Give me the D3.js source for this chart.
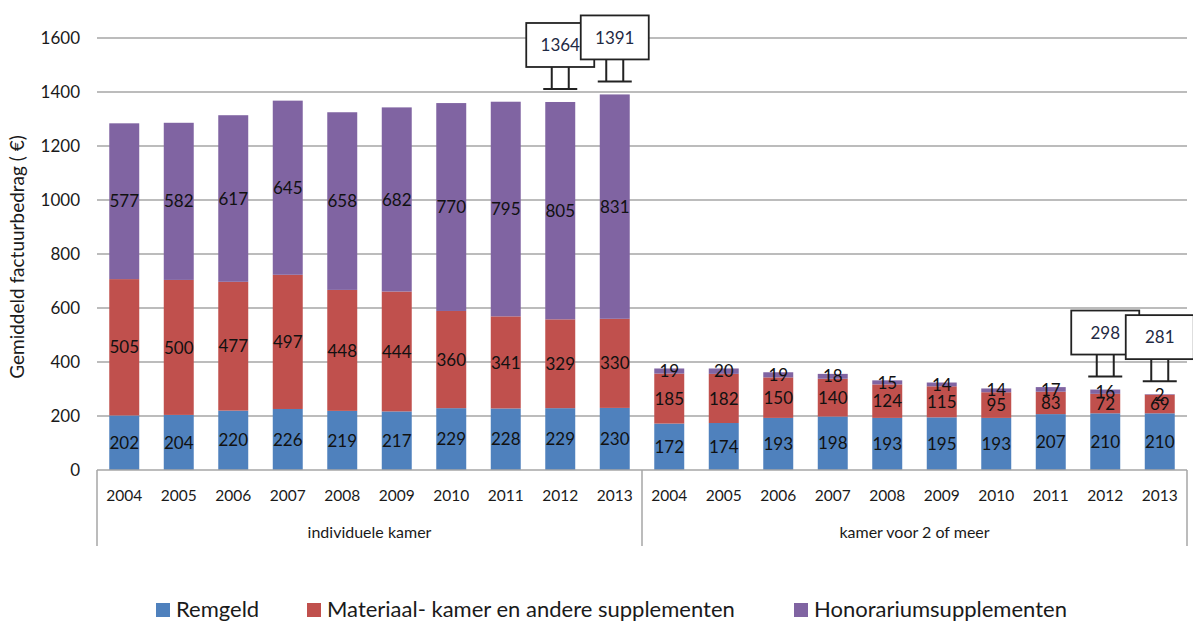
<!DOCTYPE html>
<html>
<head>
<meta charset="utf-8">
<script src="https://cdn.jsdelivr.net/npm/d3@7"></script>
<style>
  html, body { margin: 0; padding: 0; background: #fff; }
  svg { display: block; font-family: Lato, "Open Sans", sans-serif; }
</style>
</head>
<body>
<svg id="chart" width="1193" height="623"></svg>
<script>
// ---- data ----
const groups = ["individuele kamer", "kamer voor 2 of meer"];
const years = ["2004","2005","2006","2007","2008","2009","2010","2011","2012","2013"];
const seriesNames = ["Remgeld", "Materiaal- kamer en andere supplementen", "Honorariumsupplementen"];
const remgeld = [202,204,220,226,219,217,229,228,229,230, 172,174,193,198,193,195,193,207,210,210];
const materiaal = [505,500,477,497,448,444,360,341,329,330, 185,182,150,140,124,115,95,83,72,69];
const honorarium = [577,582,617,645,658,682,770,795,805,831, 19,20,19,18,15,14,14,17,16,2];
const calloutIndex = [8, 9, 18, 19];
const calloutValue = [1364, 1391, 298, 281];
const yTicks = [0,200,400,600,800,1000,1200,1400,1600];
const colors = ["#4f81bd", "#c0504d", "#8064a2"];

// ---- build rows ----
const keys = [];
groups.forEach((g, gi) => years.forEach((yv) => keys.push(gi + "-" + yv)));
const rows = keys.map((k, i) => ({
  key: k, year: years[i % years.length], group: Math.floor(i / years.length),
  s0: remgeld[i], s1: materiaal[i], s2: honorarium[i]
}));

const svg = d3.select("#chart");
const pLeft = 97, pRight = 1187, pTop = 38, pBottom = 470;

const x = d3.scaleBand().domain(keys).range([pLeft, pRight]).paddingInner(0.45).paddingOuter(0.225);
const y = d3.scaleLinear().domain([0, 1600]).range([pBottom, pTop]);

// gridlines
svg.append("g").selectAll("line").data(yTicks.filter(t => t > 0)).join("line")
  .attr("x1", pLeft).attr("x2", pRight)
  .attr("y1", d => y(d)).attr("y2", d => y(d))
  .attr("stroke", "#a6a6a6").attr("stroke-width", 1.5);

// y axis labels
const yAxis = d3.axisLeft(y).tickValues(yTicks).tickSize(0).tickPadding(0).tickFormat(d3.format("d"));
const ya = svg.append("g").attr("transform", `translate(${pLeft - 17},0)`).call(yAxis);
ya.select(".domain").remove();
ya.selectAll("text").attr("font-family", "Lato").attr("font-size", 17).attr("fill", "#1a1a1a").attr("dy", "0.35em");

// y title
svg.append("text")
  .attr("transform", `translate(24,${(pTop + pBottom) / 2 + 3}) rotate(-90)`)
  .attr("text-anchor", "middle").attr("font-size", 19).attr("fill", "#1a1a1a")
  .text("Gemiddeld factuurbedrag ( €)");

// stacked bars
const stack = d3.stack().keys(["s0", "s1", "s2"]);
const stacked = stack(rows);
const layers = svg.append("g").selectAll("g").data(stacked).join("g")
  .attr("fill", (d, i) => colors[i]);
layers.selectAll("rect").data(d => d).join("rect")
  .attr("x", d => x(d.data.key)).attr("width", x.bandwidth())
  .attr("y", d => y(d[1])).attr("height", d => y(d[0]) - y(d[1]));

// data labels
const lab = svg.append("g").attr("font-size", 17).attr("fill", "#111").attr("text-anchor", "middle");
stacked.forEach((layer, li) => {
  lab.selectAll(null).data(layer).join("text")
    .attr("x", d => x(d.data.key) + x.bandwidth() / 2)
    .attr("y", d => (y(d[0]) + y(d[1])) / 2)
    .attr("dy", "0.36em")
    .text(d => d.data["s" + li]);
});

// category axis
const ax = svg.append("g").attr("stroke", "#a6a6a6").attr("stroke-width", 1.5);
ax.append("line").attr("x1", pLeft).attr("x2", pRight).attr("y1", pBottom).attr("y2", pBottom);
const sepX = [pLeft, x(keys[years.length]) - x.step() * 0.225, pRight];
ax.selectAll(null).data(sepX).join("line")
  .attr("x1", d => d).attr("x2", d => d).attr("y1", pBottom).attr("y2", pBottom + 76);

svg.append("g").attr("font-size", 15.5).attr("fill", "#1a1a1a").attr("text-anchor", "middle")
  .selectAll("text").data(rows).join("text")
  .attr("x", d => x(d.key) + x.bandwidth() / 2).attr("y", pBottom + 31)
  .text(d => d.year);

svg.append("g").attr("font-size", 16).attr("fill", "#1a1a1a").attr("text-anchor", "middle")
  .selectAll("text").data(groups).join("text")
  .attr("x", (d, i) => (sepX[i] + sepX[i + 1]) / 2).attr("y", pBottom + 68)
  .text(d => d);

// callouts
const co = svg.append("g");
calloutIndex.forEach((idx, ci) => {
  const r = rows[idx];
  const total = r.s0 + r.s1 + r.s2;
  const cx = x(r.key) + x.bandwidth() / 2;
  const base = y(total) - 13;
  const g = co.append("g");
  const bw = 68, bh = 44, sl = 22, sw = 17, baseW = 34;
  g.append("rect").attr("x", cx - bw / 2).attr("y", base - sl - bh).attr("width", bw).attr("height", bh)
    .attr("fill", "#fff").attr("stroke", "#222").attr("stroke-width", 1.8);
  g.append("path")
    .attr("d", `M${cx - sw / 2},${base - sl}V${base}M${cx + sw / 2},${base - sl}V${base}M${cx - baseW / 2},${base}H${cx + baseW / 2}`)
    .attr("fill", "none").attr("stroke", "#222").attr("stroke-width", 2);
  g.append("text").attr("x", cx).attr("y", base - sl - bh / 2).attr("dy", "0.36em")
    .attr("text-anchor", "middle").attr("font-size", 17).attr("fill", "#1f2a44")
    .text(calloutValue[ci]);
});

// legend
const legendX = [156, 307, 794];
const lg = svg.append("g");
seriesNames.forEach((n, i) => {
  lg.append("rect").attr("x", legendX[i]).attr("y", 603).attr("width", 14).attr("height", 14).attr("fill", colors[i]);
  lg.append("text").attr("x", legendX[i] + 20).attr("y", 617).attr("font-size", 22).attr("fill", "#1a1a1a").text(n);
});
</script>
</body>
</html>
